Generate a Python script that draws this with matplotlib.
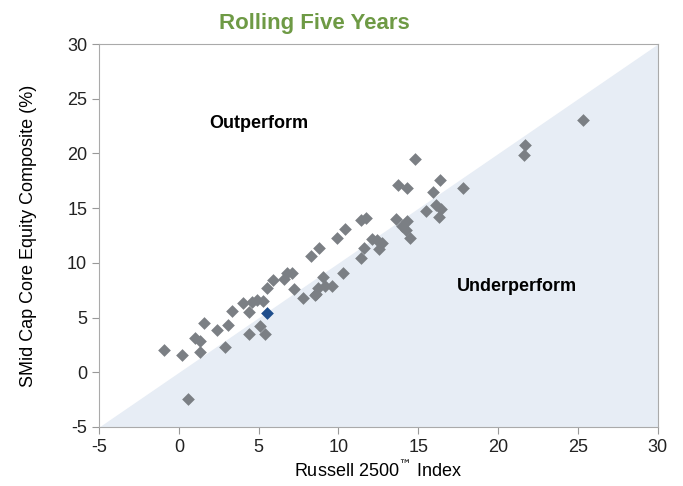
import matplotlib.pyplot as plt
import numpy as np

# composite vs index, rolling five-year returns (%)
index_ret = [-0.9, 0.2, 0.6, 1.3, 1.0, 1.3, 1.6, 2.4, 2.9, 3.1, 3.3, 4.4, 4.4,
             4.0, 4.6, 4.9, 5.3, 5.1, 5.4, 5.5, 5.9, 6.6, 6.75, 7.1, 7.2, 7.75,
             8.3, 8.6, 8.8, 9.0, 8.7, 9.15, 9.6, 8.5, 10.3, 9.9, 10.4, 11.4,
             11.7, 11.4, 11.6, 12.1, 12.4, 12.7, 12.55, 13.6, 14.3, 13.95,
             14.2, 14.5, 13.7, 14.3, 14.8, 16.35, 15.9, 17.8, 16.1, 16.45,
             15.5, 16.3, 21.7, 21.6, 25.3]
composite_ret = [2.0, 1.6, -2.4, 1.9, 3.1, 2.9, 4.5, 3.9, 2.3, 4.3, 5.6, 5.5, 3.5,
                 6.3, 6.4, 6.6, 6.5, 4.2, 3.5, 7.7, 8.4, 8.5, 9.05, 9.05, 7.6, 6.8,
                 10.6, 7.2, 11.4, 8.7, 7.7, 7.9, 7.9, 7.1, 9.1, 12.3, 13.1, 13.9,
                 14.1, 10.4, 11.4, 12.2, 12.1, 11.8, 11.3, 14.0, 13.8, 13.4,
                 13.0, 12.3, 17.1, 16.8, 19.5, 17.6, 16.45, 16.8, 15.3, 14.9,
                 14.7, 14.2, 20.8, 19.9, 23.1]
latest_x, latest_y = [5.5], [5.4]

ticks = [-5, 0, 5, 10, 15, 20, 25, 30]

plt.rcParams['font.family'] = ['Liberation Sans', 'DejaVu Sans']
plt.rcParams['axes.unicode_minus'] = False

fig = plt.figure(figsize=(6.83, 4.86), dpi=100)
ax = fig.add_axes([0.145, 0.1214, 0.818, 0.788])

# underperform region below the diagonal
ax.fill_between([-5, 30], [-5, 30], -5, color='#e7edf5', lw=0, zorder=0)

ax.scatter(index_ret, composite_ret, marker='D', s=42, color='#7b7f84', lw=0, zorder=3)
ax.scatter(latest_x, latest_y, marker='D', s=42, color='#1f4e8c', lw=0, zorder=4)

ax.set_xlim(-5, 30)
ax.set_ylim(-5, 30)
ax.set_xticks(ticks)
ax.set_yticks(ticks)
ax.tick_params(labelsize=13, color='#999999', length=5, labelcolor='#222222')
for s in ax.spines.values():
    s.set_color('#aaaaaa')

ax.text(5.0, 22.7, 'Outperform', fontsize=13, fontweight='bold', ha='center', va='center')
ax.text(21.2, 7.8, 'Underperform', fontsize=13, fontweight='bold', ha='center', va='center')

ax.set_xlabel('Russell 2500$^{\\mathrm{™}}$ Index', fontsize=13, labelpad=3)
ax.set_ylabel('SMid Cap Core Equity Composite (%)', fontsize=13, labelpad=22)
fig.text(0.46, 0.952, 'Rolling Five Years', fontsize=16, fontweight='bold',
         color='#6e9a45', ha='center', va='center')

fig.savefig('out.png', dpi=100)
